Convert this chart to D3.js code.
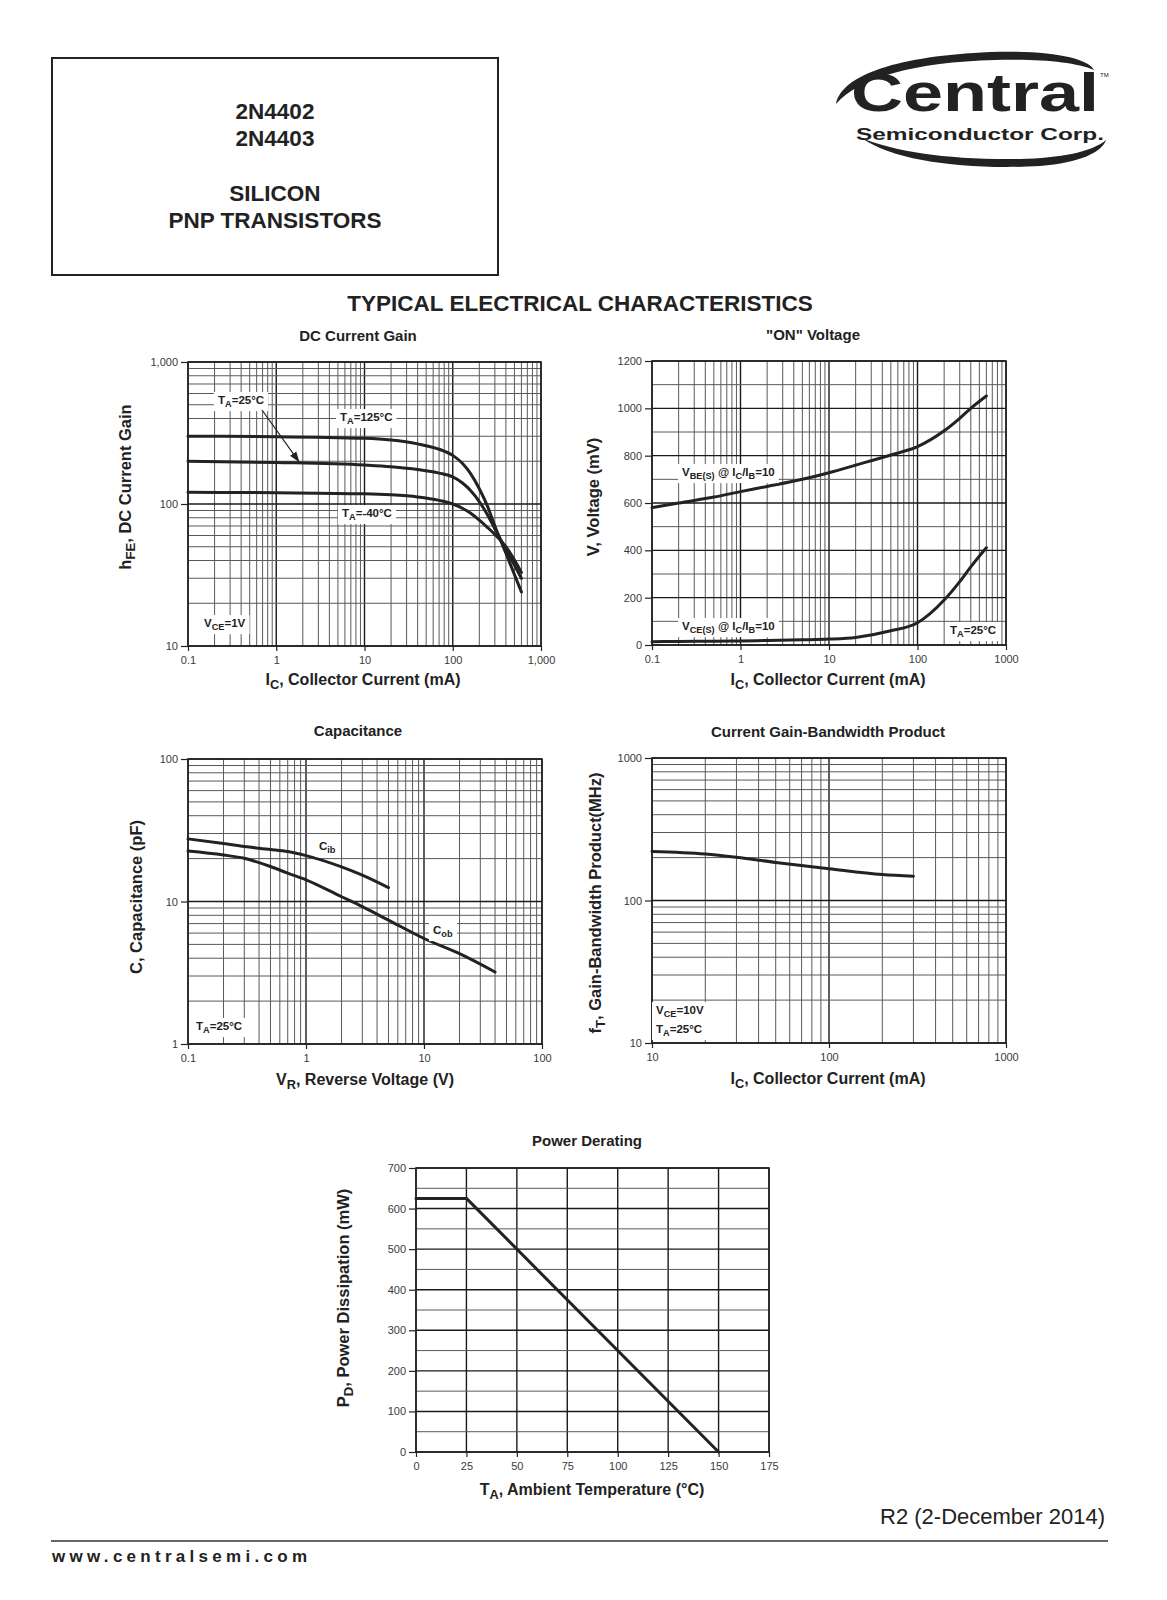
<!DOCTYPE html>
<html><head><meta charset="utf-8">
<script src="https://cdn.jsdelivr.net/npm/d3@7/dist/d3.min.js"></script>
<style>
body{margin:0;background:#fff;}
svg text{font-family:"Liberation Sans",Arial,Helvetica,sans-serif;}
</style></head><body>
<svg id="page" width="1167" height="1600" xmlns="http://www.w3.org/2000/svg"></svg>
<script>
// ---------------- DATA ----------------
// DC Current Gain (hFE vs IC, mA)
const dcIc      = [0.1, 1, 10, 20, 40, 70, 100, 130, 160, 200, 250, 300, 400, 600];
const dcHfe125  = [300, 298, 290, 282, 265, 243, 220, 192, 163, 128, 95, 70, 45, 24];
const dcHfe25   = [200, 196, 188, 183, 175, 165, 155, 140, 124, 104, 83, 67, 48, 30];
const dcHfeM40  = [121, 120, 118, 116, 112, 106, 100, 93, 86, 77, 68, 61, 50, 33];
const dcXTicks  = [0.1, 1, 10, 100, 1000];
const dcXLabels = ["0.1", "1", "10", "100", "1,000"];
const dcYTicks  = [10, 100, 1000];
const dcYLabels = ["10", "100", "1,000"];

// "ON" Voltage (mV vs IC, mA)
const onIc      = [0.1, 0.2, 0.5, 1, 2, 5, 10, 20, 50, 100, 200, 300, 400, 600];
const onVbe     = [580, 600, 625, 648, 670, 700, 728, 760, 803, 838, 905, 958, 1000, 1052];
const onVce     = [14, 15, 16, 17, 19, 22, 25, 32, 60, 94, 190, 268, 330, 411];
const onXTicks  = [0.1, 1, 10, 100, 1000];
const onXLabels = ["0.1", "1", "10", "100", "1000"];
const onYTicks  = [0, 200, 400, 600, 800, 1000, 1200];
const onYLabels = ["0", "200", "400", "600", "800", "1000", "1200"];

// Capacitance (pF vs VR, V)
const capVrIb   = [0.1, 0.2, 0.3, 0.5, 0.7, 1, 2, 3, 5];
const capCib    = [27.5, 25.5, 24.3, 23.2, 22.4, 21, 17.5, 15.3, 12.5];
const capVrOb   = [0.1, 0.2, 0.3, 0.5, 0.7, 1, 2, 3, 5, 10, 20, 40];
const capCob    = [22.6, 21.2, 20.1, 17.6, 15.8, 14.2, 10.8, 9.2, 7.4, 5.5, 4.3, 3.2];
const capXTicks = [0.1, 1, 10, 100];
const capXLabels= ["0.1", "1", "10", "100"];
const capYTicks = [1, 10, 100];
const capYLabels= ["1", "10", "100"];

// Current Gain-Bandwidth Product (MHz vs IC, mA)
const ftIc      = [10, 20, 30, 50, 100, 200, 300];
const ftVal     = [221, 212, 201, 185, 167, 152, 148];
const ftXTicks  = [10, 100, 1000];
const ftXLabels = ["10", "100", "1000"];
const ftYTicks  = [10, 100, 1000];
const ftYLabels = ["10", "100", "1000"];

// Power Derating (mW vs TA, °C)
const pdTa      = [0, 25, 150];
const pdVal     = [625, 625, 0];
const pdXTicks  = [0, 25, 50, 75, 100, 125, 150, 175];
const pdXLabels = ["0", "25", "50", "75", "100", "125", "150", "175"];
const pdYTicks  = [0, 100, 200, 300, 400, 500, 600, 700];
const pdYLabels = ["0", "100", "200", "300", "400", "500", "600", "700"];

// ---------------- DRAWING ----------------
const svg = d3.select("#page");
const INK = "#222";

function rich(sel, segs, size) {
  let prevSub = false;
  segs.forEach(seg => {
    const isSub = seg[1] === "sub";
    const ts = sel.append("tspan").text(seg[0]);
    if (isSub) {
      ts.attr("font-size", size * 0.8);
      if (!prevSub) ts.attr("dy", size * 0.32);
    } else if (prevSub) {
      ts.attr("dy", -size * 0.32);
    }
    prevSub = isSub;
  });
  return sel;
}

function logGrid(domain) {
  const out = [];
  const lo = Math.round(Math.log10(domain[0])), hi = Math.round(Math.log10(domain[1]));
  for (let e = lo; e < hi; e++) for (let k = 1; k <= 9; k++) out.push(k * Math.pow(10, e));
  out.push(Math.pow(10, hi));
  return out;
}
function isMajorLog(v) { const l = Math.log10(v); return Math.abs(l - Math.round(l)) < 1e-9; }

function chart(c) {
  const g = svg.append("g");
  const x = (c.xLog ? d3.scaleLog() : d3.scaleLinear()).domain(c.xDom).range([c.l, c.r]);
  const y = (c.yLog ? d3.scaleLog() : d3.scaleLinear()).domain(c.yDom).range([c.b, c.t]);

  const xg = c.xLog ? logGrid(c.xDom) : c.xGrid;
  const yg = c.yLog ? logGrid(c.yDom) : c.yGrid;
  const xMaj = v => c.xLog ? isMajorLog(v) : c.xTicks.includes(v);
  const yMaj = v => c.yLog ? isMajorLog(v) : c.yTicks.includes(v);

  g.append("g").selectAll("line").data(xg).join("line")
    .attr("x1", d => x(d)).attr("x2", d => x(d)).attr("y1", c.t).attr("y2", c.b)
    .attr("stroke", d => xMaj(d) ? "#1a1a1a" : "#5a5a5a").attr("stroke-width", d => xMaj(d) ? 1.4 : 1);
  g.append("g").selectAll("line").data(yg).join("line")
    .attr("y1", d => y(d)).attr("y2", d => y(d)).attr("x1", c.l).attr("x2", c.r)
    .attr("stroke", d => yMaj(d) ? "#1a1a1a" : "#5a5a5a").attr("stroke-width", d => yMaj(d) ? 1.4 : 1);

  g.append("rect").attr("x", c.l).attr("y", c.t).attr("width", c.r - c.l).attr("height", c.b - c.t)
    .attr("fill", "none").attr("stroke", INK).attr("stroke-width", 1.6);

  const xa = g.append("g").attr("transform", `translate(0,${c.b})`)
    .call(d3.axisBottom(x).tickValues(c.xTicks).tickFormat((d, i) => c.xLabels[i]).tickSize(5).tickPadding(5));
  const ya = g.append("g").attr("transform", `translate(${c.l},0)`)
    .call(d3.axisLeft(y).tickValues(c.yTicks).tickFormat((d, i) => c.yLabels[i]).tickSize(7).tickPadding(3));
  [xa, ya].forEach(a => {
    a.select(".domain").remove();
    a.selectAll(".tick line").attr("stroke", INK).attr("stroke-width", 1.2);
    a.selectAll(".tick text").attr("fill", "#3a3a3a").attr("font-size", 11)
      .attr("font-family", '"Liberation Sans",Arial,sans-serif');
  });

  // titles
  g.append("text").attr("x", c.title[1]).attr("y", c.title[2]).attr("text-anchor", "middle")
    .attr("dominant-baseline", "middle").attr("font-size", 15).attr("font-weight", "bold").attr("fill", INK)
    .text(c.title[0]);
  rich(g.append("text").attr("x", c.xTitle[1]).attr("y", c.xTitle[2]).attr("text-anchor", "middle")
    .attr("dominant-baseline", "middle").attr("font-size", 16).attr("font-weight", "bold").attr("fill", INK),
    c.xTitle[0], 16);
  rich(g.append("text").attr("transform", `translate(${c.yTitle[1]},${c.yTitle[2]}) rotate(-90)`)
    .attr("text-anchor", "middle").attr("dominant-baseline", "middle")
    .attr("font-size", 16.5).attr("font-weight", "bold").attr("fill", INK),
    c.yTitle[0], 16.5);

  // curves
  const line = d3.line().x(d => x(d[0])).y(d => y(d[1])).curve(c.curve || d3.curveMonotoneX);
  c.series.forEach(s => {
    g.append("path").attr("d", line(d3.zip(s.x, s.y)))
      .attr("fill", "none").attr("stroke", INK).attr("stroke-width", 3)
      .attr("stroke-linejoin", "round").attr("stroke-linecap", "round");
  });

  // in-plot labels
  (c.labels || []).forEach(lb => {
    const lg = g.append("g");
    const t = rich(lg.append("text").attr("x", lb[1]).attr("y", lb[2]).attr("dominant-baseline", "middle")
      .attr("font-size", 11.5).attr("font-weight", "bold").attr("fill", INK), lb[0], 11.5);
    if (lb[3]) {
      const bb = t.node().getBBox();
      lg.insert("rect", "text").attr("x", bb.x - 4).attr("y", bb.y - 2)
        .attr("width", bb.width + 8).attr("height", bb.height + 4).attr("fill", "#fff");
    }
  });
  return { g, x, y };
}

// DC Current Gain
const dc = chart({
  l: 188, r: 541, t: 362, b: 646, xLog: true, yLog: true, xDom: [0.1, 1000], yDom: [10, 1000],
  xTicks: dcXTicks, xLabels: dcXLabels, yTicks: dcYTicks, yLabels: dcYLabels,
  title: ["DC Current Gain", 358, 337],
  xTitle: [[["I"], ["C", "sub"], [", Collector Current (mA)"]], 363, 681],
  yTitle: [[["h"], ["FE", "sub"], [", DC Current Gain"]], 127, 487],
  series: [{ x: dcIc, y: dcHfe125 }, { x: dcIc, y: dcHfe25 }, { x: dcIc, y: dcHfeM40 }],
  labels: [
    [[["T"], ["A", "sub"], ["=25°C"]], 218, 401, true],
    [[["T"], ["A", "sub"], ["=125°C"]], 340, 418, true],
    [[["T"], ["A", "sub"], ["=-40°C"]], 342, 514, true],
    [[["V"], ["CE", "sub"], ["=1V"]], 204, 624, true]
  ]
});
// arrow for TA=25°C
const defs = svg.append("defs");
defs.append("marker").attr("id", "ah").attr("viewBox", "0 0 10 10").attr("refX", 9).attr("refY", 5)
  .attr("markerWidth", 9).attr("markerHeight", 9).attr("orient", "auto")
  .append("path").attr("d", "M0,1.5 L10,5 L0,8.5 z").attr("fill", INK);
dc.g.append("line").attr("x1", 262).attr("y1", 410).attr("x2", dc.x(1.8)).attr("y2", dc.y(193) - 2)
  .attr("stroke", INK).attr("stroke-width", 1.2).attr("marker-end", "url(#ah)");

// ON Voltage
chart({
  l: 652, r: 1006, t: 361, b: 645, xLog: true, yLog: false, xDom: [0.1, 1000], yDom: [0, 1200],
  yGrid: d3.range(0, 1201, 100),
  xTicks: onXTicks, xLabels: onXLabels, yTicks: onYTicks, yLabels: onYLabels,
  title: ['"ON" Voltage', 813, 336],
  xTitle: [[["I"], ["C", "sub"], [", Collector Current (mA)"]], 828, 681],
  yTitle: [[["V, Voltage (mV)"]], 595, 497],
  series: [{ x: onIc, y: onVbe }, { x: onIc, y: onVce }],
  labels: [
    [[["V"], ["BE(S)", "sub"], [" @ I"], ["C", "sub"], ["/I"], ["B", "sub"], ["=10"]], 682, 473, true],
    [[["V"], ["CE(S)", "sub"], [" @ I"], ["C", "sub"], ["/I"], ["B", "sub"], ["=10"]], 682, 627, true],
    [[["T"], ["A", "sub"], ["=25°C"]], 950, 631, true]
  ]
});

// Capacitance
chart({
  l: 188, r: 542, t: 759, b: 1044, xLog: true, yLog: true, xDom: [0.1, 100], yDom: [1, 100],
  xTicks: capXTicks, xLabels: capXLabels, yTicks: capYTicks, yLabels: capYLabels,
  title: ["Capacitance", 358, 732],
  xTitle: [[["V"], ["R", "sub"], [", Reverse Voltage (V)"]], 365, 1081],
  yTitle: [[["C, Capacitance (pF)"]], 138, 897],
  series: [{ x: capVrIb, y: capCib }, { x: capVrOb, y: capCob }],
  labels: [
    [[["C"], ["ib", "sub"]], 319, 847, true],
    [[["C"], ["ob", "sub"]], 433, 931, true],
    [[["T"], ["A", "sub"], ["=25°C"]], 196, 1027, true]
  ]
});

// Current Gain-Bandwidth Product
chart({
  l: 652, r: 1006, t: 758, b: 1043, xLog: true, yLog: true, xDom: [10, 1000], yDom: [10, 1000],
  xTicks: ftXTicks, xLabels: ftXLabels, yTicks: ftYTicks, yLabels: ftYLabels,
  title: ["Current Gain-Bandwidth Product", 828, 733],
  xTitle: [[["I"], ["C", "sub"], [", Collector Current (mA)"]], 828, 1080],
  yTitle: [[["f"], ["T", "sub"], [", Gain-Bandwidth Product(MHz)"]], 597, 903],
  series: [{ x: ftIc, y: ftVal }],
  labels: [
    [[["V"], ["CE", "sub"], ["=10V"]], 656, 1011, true],
    [[["T"], ["A", "sub"], ["=25°C"]], 656, 1030, true]
  ]
});

// Power Derating
chart({
  l: 416, r: 769, t: 1168, b: 1452, xLog: false, yLog: false, xDom: [0, 175], yDom: [0, 700],
  xGrid: d3.range(0, 176, 25), yGrid: d3.range(0, 701, 50),
  xTicks: pdXTicks, xLabels: pdXLabels, yTicks: pdYTicks, yLabels: pdYLabels,
  title: ["Power Derating", 587, 1142],
  xTitle: [[["T"], ["A", "sub"], [", Ambient Temperature (°C)"]], 592, 1491],
  yTitle: [[["P"], ["D", "sub"], [", Power Dissipation (mW)"]], 345, 1298],
  series: [{ x: pdTa, y: pdVal }],
  curve: d3.curveLinear
});

// ---------------- PAGE FURNITURE ----------------
svg.append("rect").attr("x", 52).attr("y", 58).attr("width", 446).attr("height", 217)
  .attr("fill", "none").attr("stroke", INK).attr("stroke-width", 2);
[["2N4402", 113], ["2N4403", 140], ["SILICON", 195], ["PNP TRANSISTORS", 222]].forEach(d => {
  svg.append("text").attr("x", 275).attr("y", d[1]).attr("text-anchor", "middle")
    .attr("dominant-baseline", "middle").attr("font-size", 22.5).attr("font-weight", "bold")
    .attr("fill", INK).text(d[0]);
});

svg.append("text").attr("x", 580).attr("y", 305).attr("text-anchor", "middle")
  .attr("dominant-baseline", "middle").attr("font-size", 22.5).attr("font-weight", "bold")
  .attr("fill", INK).text("TYPICAL ELECTRICAL CHARACTERISTICS");

// Logo
const logo = svg.append("g");
logo.append("path").attr("d", "M836,104 C842,74 900,56 990,52 C1050,50 1088,58 1094,70 C1075,62 1040,59 995,60 C915,62 858,78 836,104 Z")
  .attr("fill", INK);
logo.append("path").attr("d", "M862,138 C895,162 970,170 1040,166 C1080,163 1102,152 1106,140 C1092,152 1060,158 1020,159 C950,160 895,152 862,138 Z")
  .attr("fill", INK);
logo.append("text").attr("x", 851).attr("y", 111).attr("font-size", 54).attr("font-weight", "900")
  .attr("font-family", '"DejaVu Sans",sans-serif').attr("textLength", 248).attr("lengthAdjust", "spacingAndGlyphs")
  .attr("fill", INK).text("Central");
logo.append("text").attr("x", 856).attr("y", 140).attr("font-size", 16.5).attr("font-weight", "bold")
  .attr("font-family", '"DejaVu Sans",sans-serif').attr("textLength", 248).attr("lengthAdjust", "spacingAndGlyphs")
  .attr("fill", INK).text("Semiconductor Corp.");
logo.append("text").attr("x", 1100).attr("y", 77).attr("font-size", 6).attr("fill", INK).text("TM");

// Footer
svg.append("text").attr("x", 1105).attr("y", 1518).attr("text-anchor", "end").attr("dominant-baseline", "middle")
  .attr("font-size", 22).attr("fill", INK).text("R2 (2-December 2014)");
svg.append("line").attr("x1", 51).attr("x2", 1108).attr("y1", 1541).attr("y2", 1541)
  .attr("stroke", "#333").attr("stroke-width", 1.5);
svg.append("text").attr("x", 52).attr("y", 1558).attr("dominant-baseline", "middle")
  .attr("font-size", 17).attr("font-weight", "bold").attr("textLength", 255).attr("lengthAdjust", "spacing")
  .attr("fill", INK).text("www.centralsemi.com");
</script>
</body></html>
